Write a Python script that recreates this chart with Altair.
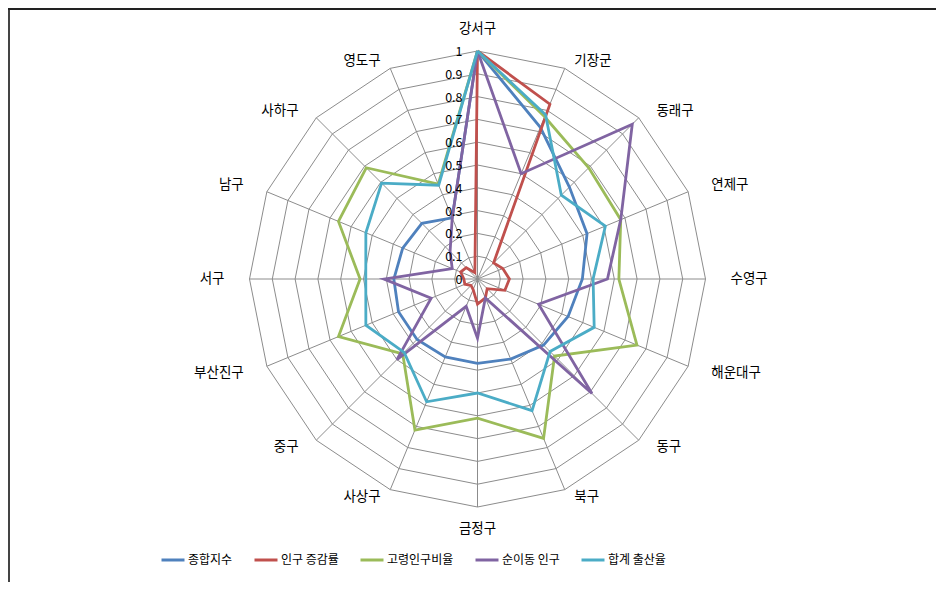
import altair as alt
import pandas as pd

categories = ["강서구", "기장군", "동래구", "연제구", "수영구", "해운대구", "동구", "북구",
              "금정구", "사상구", "중구", "부산진구", "서구", "남구", "사하구", "영도구"]
series_names = ["종합지수", "인구 증감률", "고령인구비율", "순이동 인구", "합계 출산율"]
colors = ["#4F81BD", "#C0504D", "#9BBB59", "#8064A2", "#4BACC6"]

composite = [1.0, 0.72, 0.57, 0.52, 0.46, 0.43, 0.41, 0.38, 0.37, 0.37, 0.375, 0.375, 0.367, 0.355, 0.345, 0.29]
pop_change = [1.0, 0.83, 0.10, 0.12, 0.14, 0.13, 0.06, 0.09, 0.11, 0.05, 0.04, 0.06, 0.06, 0.08, 0.07, 0.03]
elderly = [1.0, 0.77, 0.69, 0.68, 0.62, 0.757, 0.478, 0.757, 0.61, 0.717, 0.464, 0.66, 0.515, 0.66, 0.69, 0.45]
net_migration = [1.0, 0.50, 0.96, 0.68, 0.57, 0.29, 0.71, 0.09, 0.26, 0.13, 0.50, 0.22, 0.41, 0.12, 0.17, 0.29]
fertility = [1.0, 0.78, 0.52, 0.607, 0.507, 0.554, 0.45, 0.625, 0.50, 0.583, 0.455, 0.53, 0.49, 0.53, 0.595, 0.445]

grid_levels = [0.1, 0.2, 0.3, 0.4, 0.5, 0.6, 0.7, 0.8, 0.9, 1.0]
tick_values = [0, 0.1, 0.2, 0.3, 0.4, 0.5, 0.6, 0.7, 0.8, 0.9, 1.0]
tick_labels = ["0", "0.1", "0.2", "0.3", "0.4", "0.5", "0.6", "0.7", "0.8", "0.9", "1"]

N = len(categories)
all_series = [composite, pop_change, elderly, net_migration, fertility]

rows = []
for name, vals in zip(series_names, all_series):
    for k in range(N + 1):
        rows.append({"series": name, "idx": k % N, "order": k, "value": vals[k % N]})
series_df = pd.DataFrame(rows)

grid_rows = []
for lv in grid_levels:
    for k in range(N + 1):
        grid_rows.append({"level": lv, "idx": k % N, "order": k})
grid_df = pd.DataFrame(grid_rows)

spoke_df = pd.DataFrame({"idx": list(range(N))})
label_df = pd.DataFrame({"idx": list(range(N)), "cat": categories})
tick_df = pd.DataFrame({"v": tick_values, "label": tick_labels})

W, H = 928, 574
R = 228.0
cx, cy = 469.5, 271.0
xs = alt.Scale(domain=[-cx / R, (W - cx) / R], nice=False, zero=False)
ys = alt.Scale(domain=[-(H - cy) / R, cy / R], nice=False, zero=False)

ANG = "datum.idx * 2 * PI / 16"
FONT = "Noto Sans CJK KR"

grid = alt.Chart(grid_df).transform_calculate(
    x=f"datum.level * sin({ANG})", y=f"datum.level * cos({ANG})"
).mark_line(color="#8c8c8c", strokeWidth=1).encode(
    x=alt.X("x:Q", scale=xs, axis=None),
    y=alt.Y("y:Q", scale=ys, axis=None),
    detail="level:N",
    order="order:Q",
)

spokes = alt.Chart(spoke_df).transform_calculate(
    x0="0", y0="0", x=f"sin({ANG})", y=f"cos({ANG})"
).mark_rule(color="#8c8c8c", strokeWidth=1).encode(
    x=alt.X("x0:Q", scale=xs, axis=None),
    y=alt.Y("y0:Q", scale=ys, axis=None),
    x2="x:Q",
    y2="y:Q",
)

lines = alt.Chart(series_df).transform_calculate(
    x=f"datum.value * sin({ANG})", y=f"datum.value * cos({ANG})"
).mark_line(strokeWidth=2.8, strokeJoin="miter").encode(
    x=alt.X("x:Q", scale=xs, axis=None),
    y=alt.Y("y:Q", scale=ys, axis=None),
    color=alt.Color(
        "series:N",
        scale=alt.Scale(domain=series_names, range=colors),
        sort=series_names,
        legend=alt.Legend(
            title=None, orient="none", direction="horizontal",
            legendX=152, legendY=539,
            symbolType="stroke", symbolSize=529, symbolStrokeWidth=3,
            labelFont=FONT, labelFontSize=12, labelColor="#000000",
            labelOffset=2, columnPadding=15, padding=0,
        ),
    ),
    order="order:Q",
)

ticks = alt.Chart(tick_df).transform_calculate(x0="0").mark_text(
    align="right", baseline="middle", dx=-15, dy=1,
    font=FONT, fontSize=12.5, color="#000000",
).encode(
    x=alt.X("x0:Q", scale=xs, axis=None),
    y=alt.Y("v:Q", scale=ys, axis=None),
    text="label:N",
)

label_base = alt.Chart(label_df).transform_calculate(
    s=f"sin({ANG})", c=f"cos({ANG})",
).transform_calculate(
    side="abs(datum.s) < 0.01 ? 'c' : (datum.s > 0 ? 'r' : 'l')",
).transform_calculate(
    x=f"datum.side == 'c' ? 0 : datum.s * (1 + 25 / {R})",
    y=f"datum.side == 'c' ? datum.c * (1 + 22 / {R}) : datum.c + (datum.c > 0.01 ? 7 : (datum.c < -0.01 ? -7 : 0)) / {R}",
)

def label_layer(side, align):
    return label_base.transform_filter(f"datum.side == '{side}'").mark_text(
        align=align, baseline="middle", font=FONT, fontSize=13.5, color="#000000",
    ).encode(
        x=alt.X("x:Q", scale=xs, axis=None),
        y=alt.Y("y:Q", scale=ys, axis=None),
        text="cat:N",
    )

labels_c = label_layer("c", "center")
labels_r = label_layer("r", "left")
labels_l = label_layer("l", "right")

frame_left = alt.Chart(tick_df).mark_rule(color="#444444", strokeWidth=1.5).encode(
    x=alt.value(0.75), y=alt.value(0), y2=alt.value(H)
)
frame_top = alt.Chart(tick_df).mark_rule(color="#222222", strokeWidth=2).encode(
    x=alt.value(0), x2=alt.value(W), y=alt.value(1)
)

chart = alt.layer(grid, spokes, lines, ticks, labels_c, labels_r, labels_l, frame_left, frame_top).properties(
    width=W, height=H, padding=0, autosize=alt.AutoSizeParams(type="none")
).configure_view(stroke=None)

chart.save("out.html", embed_options={"renderer": "svg", "actions": False})
